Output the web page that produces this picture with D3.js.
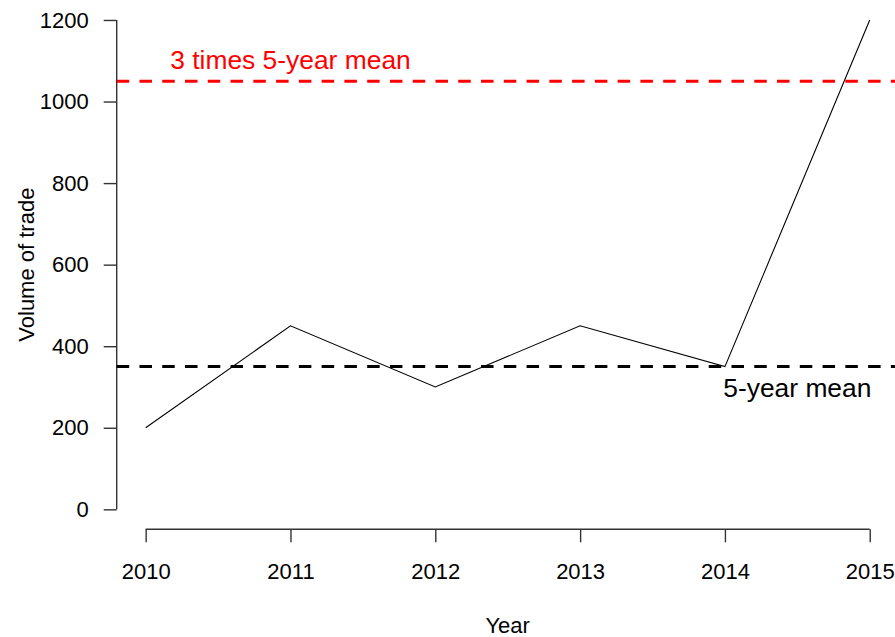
<!DOCTYPE html>
<html>
<head>
<meta charset="utf-8">
<script src="https://cdn.jsdelivr.net/npm/d3@7"></script>
<style>
  html, body { margin: 0; padding: 0; background: #fff; }
  svg { display: block; font-family: "Liberation Sans", Arial, sans-serif; }
</style>
</head>
<body>
<svg id="chart" width="895" height="637"></svg>
<script>
// ---- data ----
const years = [2010, 2011, 2012, 2013, 2014, 2015];
const volumes = [200, 450, 300, 450, 350, 1200];
const yTicks = [0, 200, 400, 600, 800, 1000, 1200];
const meanYears = [2010, 2011, 2012, 2013, 2014];
const labelMean = "5-year mean";
const labelTriple = "3 times 5-year mean";
const xTitle = "Year";
const yTitle = "Volume of trade";

const meanVal = d3.mean(volumes.filter((v, i) => meanYears.includes(years[i])));
const tripleVal = 3 * meanVal;

// ---- scales (R-style 4% padding) ----
const svg = d3.select("#chart");
const x = d3.scaleLinear().domain([2009.8, 2015.2]).range([116.7, 898.7]);
const y = d3.scaleLinear().domain([-48, 1248]).range([528.9, 0.4]);

const axisColor = "#333";

// ---- y axis ----
const gy = svg.append("g").attr("transform", "translate(116.7,0)")
  .call(d3.axisLeft(y).tickValues(yTicks).tickSizeOuter(0).tickSize(13).tickPadding(15).tickFormat(d3.format("d")));
gy.select(".domain").attr("d", `M0,${y(0)}V${y(1200)}`).attr("stroke", axisColor).attr("stroke-width", 1.4);
gy.selectAll(".tick line").attr("stroke", axisColor).attr("stroke-width", 1.4);
gy.selectAll(".tick text").attr("font-size", 22).attr("fill", "#000").attr("font-family", "Liberation Sans, Arial, sans-serif");

// ---- x axis ----
const gx = svg.append("g").attr("transform", "translate(0,529.3)")
  .call(d3.axisBottom(x).tickValues(years).tickSizeOuter(0).tickSize(13).tickPadding(21).tickFormat(d3.format("d")));
gx.select(".domain").attr("d", `M${x(2010)},0H${x(2015)}`).attr("stroke", axisColor).attr("stroke-width", 1.4);
gx.selectAll(".tick line").attr("stroke", axisColor).attr("stroke-width", 1.4);
gx.selectAll(".tick text").attr("font-size", 22).attr("fill", "#000").attr("font-family", "Liberation Sans, Arial, sans-serif");

// ---- axis titles ----
svg.append("text").attr("x", (x(2009.8) + x(2015.2)) / 2).attr("y", 633)
  .attr("text-anchor", "middle").attr("font-size", 22).attr("fill", "#000").text(xTitle);
svg.append("text").attr("transform", `translate(34,${(y(0) + y(1200)) / 2 + 0}) rotate(-90)`)
  .attr("text-anchor", "middle").attr("font-size", 22).attr("fill", "#000").text(yTitle);

// ---- reference lines ----
svg.append("line")
  .attr("x1", x(2009.8)).attr("x2", x(2015.2))
  .attr("y1", y(tripleVal)).attr("y2", y(tripleVal))
  .attr("stroke", "#ff0000").attr("stroke-width", 3).attr("stroke-dasharray", "12.5,10.27");
svg.append("line")
  .attr("x1", x(2009.8)).attr("x2", x(2015.2))
  .attr("y1", y(meanVal)).attr("y2", y(meanVal))
  .attr("stroke", "#000").attr("stroke-width", 3).attr("stroke-dasharray", "12.5,10.27");

// ---- data line ----
const line = d3.line().x((d, i) => x(years[i])).y(d => y(d));
svg.append("path").datum(volumes)
  .attr("d", line).attr("fill", "none").attr("stroke", "#000").attr("stroke-width", 1.1);

// ---- annotations ----
svg.append("text").attr("x", x(2011)).attr("y", y(tripleVal) - 12)
  .attr("text-anchor", "middle").attr("font-size", 26.4).attr("fill", "#ff0000").text(labelTriple);
svg.append("text").attr("x", x(2014.5)).attr("y", y(meanVal) + 30)
  .attr("text-anchor", "middle").attr("font-size", 26.4).attr("fill", "#000").text(labelMean);
</script>
</body>
</html>
